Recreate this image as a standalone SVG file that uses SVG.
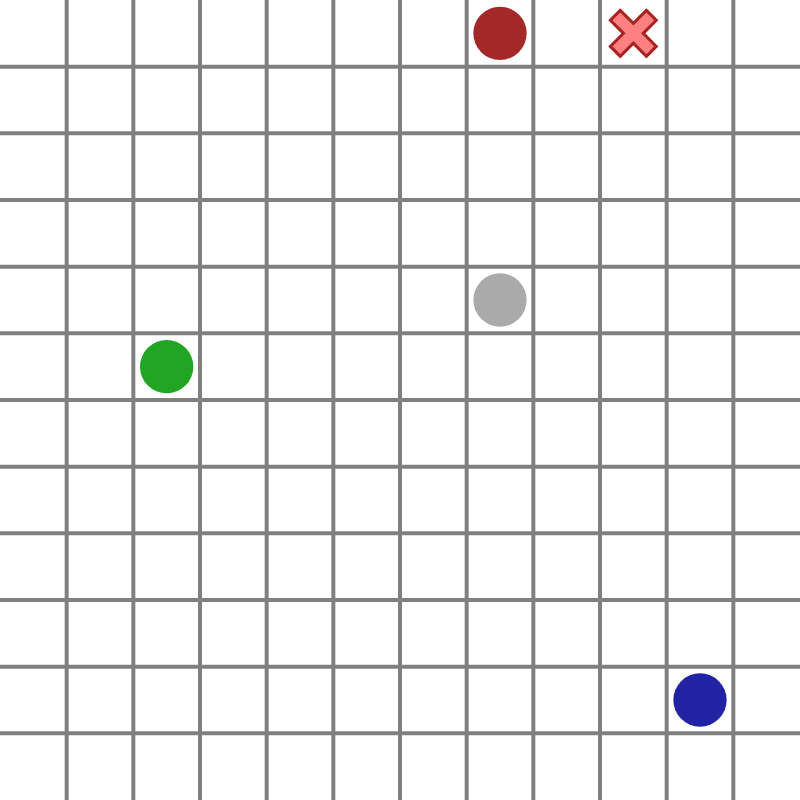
<svg xmlns="http://www.w3.org/2000/svg" width="800" height="800" viewBox="0 0 800 800">
<style>
.grid line{stroke:#808080;stroke-width:4}
.x{fill:#ff8080;stroke:#aa2222;stroke-width:3;stroke-linejoin:miter}
</style>
<rect width="800" height="800" fill="#ffffff"/>
<g class="grid" id="grid">
<line x1="66.67" y1="0" x2="66.67" y2="800"/>
<line x1="133.33" y1="0" x2="133.33" y2="800"/>
<line x1="200" y1="0" x2="200" y2="800"/>
<line x1="266.67" y1="0" x2="266.67" y2="800"/>
<line x1="333.33" y1="0" x2="333.33" y2="800"/>
<line x1="400" y1="0" x2="400" y2="800"/>
<line x1="466.67" y1="0" x2="466.67" y2="800"/>
<line x1="533.33" y1="0" x2="533.33" y2="800"/>
<line x1="600" y1="0" x2="600" y2="800"/>
<line x1="666.67" y1="0" x2="666.67" y2="800"/>
<line x1="733.33" y1="0" x2="733.33" y2="800"/>
<line y1="66.67" x1="0" y2="66.67" x2="800"/>
<line y1="133.33" x1="0" y2="133.33" x2="800"/>
<line y1="200" x1="0" y2="200" x2="800"/>
<line y1="266.67" x1="0" y2="266.67" x2="800"/>
<line y1="333.33" x1="0" y2="333.33" x2="800"/>
<line y1="400" x1="0" y2="400" x2="800"/>
<line y1="466.67" x1="0" y2="466.67" x2="800"/>
<line y1="533.33" x1="0" y2="533.33" x2="800"/>
<line y1="600" x1="0" y2="600" x2="800"/>
<line y1="666.67" x1="0" y2="666.67" x2="800"/>
<line y1="733.33" x1="0" y2="733.33" x2="800"/>
</g>
<g id="red"><circle cx="500" cy="33.33" r="26.67" fill="#a52828"/></g>
<g id="gray"><circle cx="500" cy="300" r="26.67" fill="#aaaaaa"/></g>
<g id="green"><circle cx="166.67" cy="366.67" r="26.67" fill="#22a522"/></g>
<g id="blue"><circle cx="700" cy="700" r="26.67" fill="#2222a5"/></g>
<g id="cross" transform="translate(633.33,33.33) rotate(45)">
<polygon class="x" points="-7,-25.5 7,-25.5 7,-7 25.5,-7 25.5,7 7,7 7,25.5 -7,25.5 -7,7 -25.5,7 -25.5,-7 -7,-7"/>
</g>
</svg>
